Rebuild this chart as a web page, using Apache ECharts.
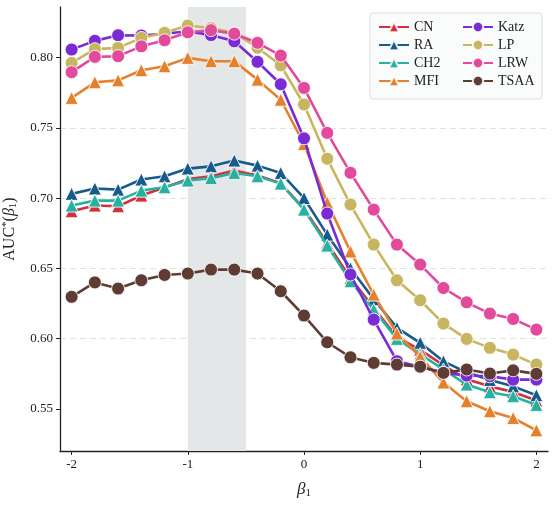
<!DOCTYPE html>
<html>
<head>
<meta charset="utf-8">
<script src="https://cdn.jsdelivr.net/npm/echarts@6/dist/echarts.min.js"></script>
<style>html,body{margin:0;padding:0;background:#fff;}#c{width:555px;height:523px;}</style>
</head>
<body>
<div id="c"></div>
<script>
const beta = [-2,-1.8,-1.6,-1.4,-1.2,-1.0,-0.8,-0.6,-0.4,-0.2,0,0.2,0.4,0.6,0.8,1.0,1.2,1.4,1.6,1.8,2.0];
const CN   = [0.6906,0.6947,0.6942,0.7018,0.7075,0.7135,0.7155,0.7196,0.7160,0.7105,0.6925,0.6680,0.6430,0.6220,0.6010,0.5920,0.5810,0.5710,0.5660,0.5620,0.5560];
const RA   = [0.7030,0.7068,0.7060,0.7132,0.7155,0.7210,0.7226,0.7267,0.7231,0.7179,0.7000,0.6740,0.6500,0.6280,0.6076,0.5970,0.5838,0.5760,0.5705,0.5660,0.5597];
const CH2  = [0.6947,0.6982,0.6982,0.7053,0.7077,0.7125,0.7142,0.7179,0.7155,0.7103,0.6918,0.6662,0.6408,0.6206,0.5998,0.5890,0.5780,0.5673,0.5618,0.5590,0.5528];
const MFI  = [0.7713,0.7824,0.7838,0.7910,0.7938,0.7998,0.7974,0.7974,0.7843,0.7700,0.7385,0.6968,0.6620,0.6313,0.6036,0.5870,0.5687,0.5554,0.5483,0.5435,0.5347];
const Katz = [0.8057,0.8119,0.8159,0.8157,0.8170,0.8187,0.8160,0.8116,0.7970,0.7810,0.7425,0.6890,0.6456,0.6135,0.5839,0.5800,0.5756,0.5737,0.5732,0.5708,0.5708];
const LP   = [0.7962,0.8060,0.8069,0.8140,0.8176,0.8228,0.8210,0.8176,0.8070,0.7945,0.7666,0.7280,0.6954,0.6669,0.6415,0.6273,0.6107,0.5998,0.5934,0.5886,0.5815];
const LRW  = [0.7896,0.8005,0.8010,0.8080,0.8123,0.8180,0.8195,0.8170,0.8105,0.8014,0.7784,0.7464,0.7180,0.6918,0.6669,0.6527,0.6360,0.6258,0.6178,0.6140,0.6064];
const TSAA = [0.6297,0.6400,0.6356,0.6415,0.6453,0.6463,0.6491,0.6491,0.6463,0.6337,0.6164,0.5974,0.5867,0.5827,0.5815,0.5800,0.5756,0.5780,0.5751,0.5774,0.5749];
const xTicks = [-2,-1,0,1,2];
const yTicks = [0.55,0.60,0.65,0.70,0.75,0.80];
const band = [-1,-0.5];

const seriesDefs = [
  {name:'CN', data:CN, color:'#d32f3c', symbol:'triangle'},
  {name:'RA', data:RA, color:'#175a8c', symbol:'triangle'},
  {name:'CH2', data:CH2, color:'#27b1a0', symbol:'triangle'},
  {name:'MFI', data:MFI, color:'#e5802d', symbol:'triangle'},
  {name:'Katz', data:Katz, color:'#7b2bd5', symbol:'circle'},
  {name:'LP', data:LP, color:'#c8b55f', symbol:'circle'},
  {name:'LRW', data:LRW, color:'#e24b9b', symbol:'circle'},
  {name:'TSAA', data:TSAA, color:'#5e3c34', symbol:'circle'}
];
const FONT = 'Liberation Serif';
const series = [{
  type:'line', data:[], silent:true, z:0,
  markArea:{silent:true, itemStyle:{color:'#e3e7e8'}, data:[[{xAxis:band[0]},{xAxis:band[1]}]]}
}].concat(seriesDefs.map((s,i)=>({
  name:s.name, type:'line', z:2+i,
  data: beta.map((b,j)=>[b,s.data[j]]),
  symbol:s.symbol, symbolSize:13,
  lineStyle:{width:2.6, color:s.color},
  itemStyle:{color:s.color, borderColor:'rgba(255,255,255,0.85)', borderWidth:1},
  emphasis:{disabled:true}, animation:false
})));

const legendCommon = {
  orient:'vertical', itemWidth:30, itemHeight:13, itemGap:4,
  textStyle:{fontFamily:FONT, fontSize:14, color:'#222', lineHeight:14, width:40},
  selectedMode:false
};
const chart = echarts.init(document.getElementById('c'), null, {renderer:'canvas'});
chart.setOption({
  animation:false,
  backgroundColor:'#fff',
  grid:{left:60, right:7, top:7, bottom:72, containLabel:false, outerBoundsMode:'none'},
  legend:[
    Object.assign({}, legendCommon, {data:['CN','RA','CH2','MFI'], left:370, top:13,
      padding:[7,88,11,8], backgroundColor:'#fafbfb', borderColor:'#dcdcdc', borderWidth:1, borderRadius:3}),
    Object.assign({}, legendCommon, {data:['Katz','LP','LRW','TSAA'], left:462, top:20, padding:0})
  ],
  xAxis:{
    type:'value', min:-2.1, max:2.1,
    name:'{i|β}{s|1}', nameLocation:'middle', nameGap:29,
    nameTextStyle:{rich:{i:{fontFamily:FONT, fontStyle:'italic', fontSize:17, color:'#222'}, s:{fontFamily:FONT, fontSize:11, color:'#222', padding:[8,0,0,0]}}},
    axisLine:{show:true, onZero:false, lineStyle:{color:'#222', width:1.3}},
    axisTick:{show:true, length:4, customValues:xTicks, lineStyle:{color:'#222'}},
    axisLabel:{customValues:xTicks, fontFamily:FONT, fontSize:13, color:'#222', margin:7},
    splitLine:{show:false}
  },
  yAxis:{
    type:'value', min:0.52, max:0.836, splitNumber:6,
    name:'{n|AUC}{p|*}{n|(}{i|β}{s|1}{n|)}', nameLocation:'middle', nameGap:41,
    nameTextStyle:{rich:{
      n:{fontFamily:FONT, fontSize:16, color:'#222'},
      p:{fontFamily:FONT, fontSize:11, color:'#222', padding:[0,0,7,0]},
      i:{fontFamily:FONT, fontStyle:'italic', fontSize:16, color:'#222'},
      s:{fontFamily:FONT, fontSize:11, color:'#222', padding:[7,0,0,0]}
    }},
    axisLine:{show:true, onZero:false, lineStyle:{color:'#222', width:1.3}},
    axisTick:{show:true, length:4, customValues:yTicks, lineStyle:{color:'#222'}},
    axisLabel:{customValues:yTicks, fontFamily:FONT, fontSize:13, color:'#222', margin:7,
      formatter:v=>v.toFixed(2)},
    splitLine:{show:true, showMinLine:false, showMaxLine:false, lineStyle:{color:'#e2e2e2', type:[6,4], width:1}}
  },
  series:series
});
</script>
</body>
</html>
